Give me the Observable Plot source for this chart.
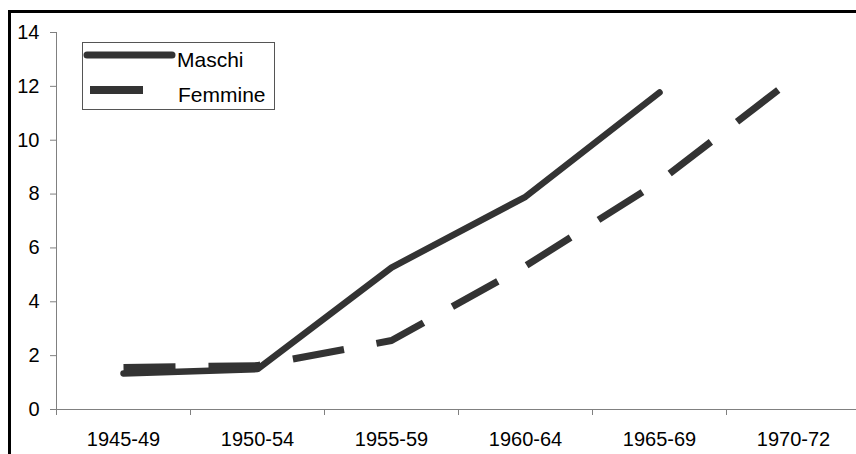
<!DOCTYPE html>
<html>
<head>
<meta charset="utf-8">
<script src="https://cdn.jsdelivr.net/npm/d3@7"></script>
<script src="https://cdn.jsdelivr.net/npm/@observablehq/plot@0.6"></script>
<style>
  html, body { margin: 0; padding: 0; background: #fff; overflow: hidden; }
  #wrap { position: relative; width: 856px; height: 454px; overflow: hidden; font-family: "Liberation Sans", Arial, sans-serif; }
  #border { position: absolute; left: 8px; top: 10px; width: 900px; height: 500px; border: 3px solid #000; pointer-events: none; }
  #legend { position: absolute; left: 82px; top: 42px; }
</style>
</head>
<body>
<div id="wrap"><div id="border"></div></div>
<script>
const categories = ["1945-49", "1950-54", "1955-59", "1960-64", "1965-69", "1970-72"];
const maschi = [1.34, 1.5, 5.27, 7.9, 11.77, null];
const femmine = [1.56, 1.63, 2.56, 5.33, 8.47, 12.3];
const yTicks = [0, 2, 4, 6, 8, 10, 12, 14];
const seriesNames = ["Maschi", "Femmine"];

const ink = "#333333";
const axisGray = "#808080";

const mData = categories.map((c, i) => ({cat: c, v: maschi[i]})).filter(d => d.v != null);
const fData = categories.map((c, i) => ({cat: c, v: femmine[i]})).filter(d => d.v != null);

const chart = Plot.plot({
  width: 856,
  height: 454,
  marginLeft: 56,
  marginRight: 0,
  marginTop: 32,
  marginBottom: 45,
  style: {fontFamily: "Liberation Sans, Arial, sans-serif", fontSize: "20px", color: "#000", background: "transparent"},
  x: {type: "point", domain: categories, range: [56, 860], padding: 0.5, label: null},
  y: {domain: [0, 14], label: null},
  marks: [
    Plot.axisY({ticks: yTicks, tickSize: 6, tickPadding: 11, stroke: axisGray, fill: "#000", fontSize: 20, label: null}),
    Plot.frame({anchor: "left", stroke: axisGray}),
    Plot.axisX({tickSize: 6, dx: -67, tickFormat: () => "", stroke: axisGray, label: null}),
    Plot.axisX({tickSize: 0, tickPadding: 22, fill: "#000", fontSize: 20, label: null}),
    Plot.ruleY([0], {stroke: axisGray}),
    Plot.line(fData, {x: "cat", y: "v", stroke: ink, strokeWidth: 7, strokeDasharray: "52,33", strokeLinecap: "butt", strokeLinejoin: "miter"}),
    Plot.line(mData, {x: "cat", y: "v", stroke: ink, strokeWidth: 6.5, strokeLinecap: "round", strokeLinejoin: "miter"})
  ]
});
const wrap = document.getElementById("wrap");
chart.style.position = "absolute";
chart.style.left = "0px";
chart.style.top = "0px";
wrap.insertBefore(chart, wrap.firstChild);

// Legend
const ns = "http://www.w3.org/2000/svg";
const lg = document.createElementNS(ns, "svg");
lg.setAttribute("id", "legend");
lg.setAttribute("width", "194");
lg.setAttribute("height", "69");
lg.innerHTML = `
  <rect x="0.5" y="0.5" width="192" height="67" fill="#fff" stroke="#555" stroke-width="1"/>
  <line x1="5" y1="13" x2="90" y2="13" stroke="${ink}" stroke-width="7" stroke-linecap="round"/>
  <text x="95" y="25" font-family="Liberation Sans, Arial, sans-serif" font-size="21" fill="#000">${seriesNames[0]}</text>
  <line x1="8" y1="48" x2="61" y2="48" stroke="${ink}" stroke-width="8" stroke-linecap="butt"/>
  <text x="96" y="60" font-family="Liberation Sans, Arial, sans-serif" font-size="21" fill="#000">${seriesNames[1]}</text>
`;
wrap.appendChild(lg);
</script>
</body>
</html>
